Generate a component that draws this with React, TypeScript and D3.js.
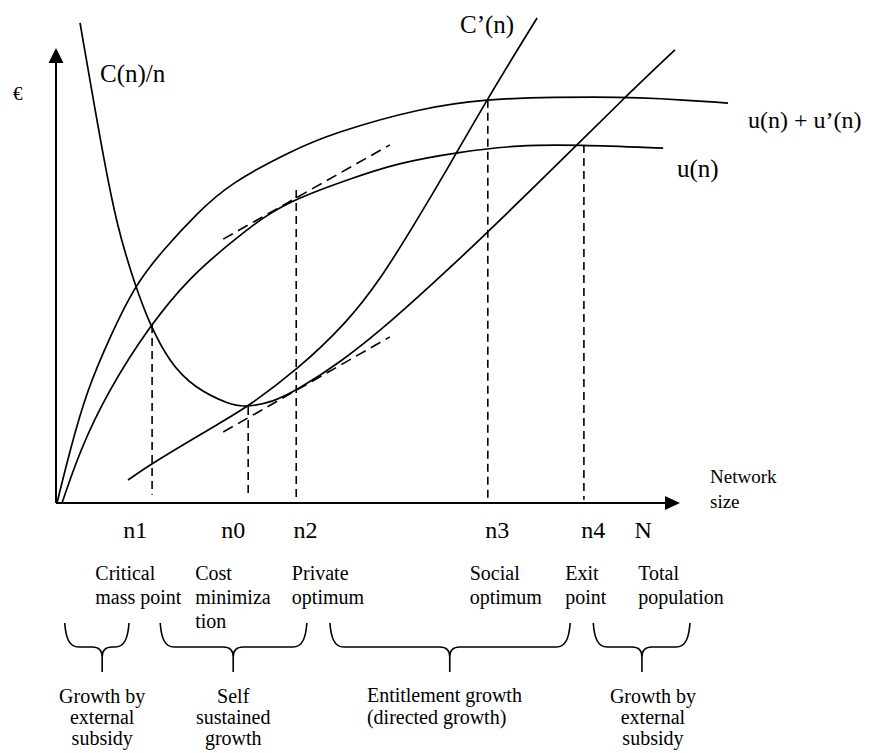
import * as d3 from 'd3'
import { useEffect, useRef } from 'react'

type Pt = [number, number]

// network size (0..100 along the axis) vs euro (0..100 up the axis)
const utilityPlusMarginal: Pt[] = [
  [0.16, 0], [2.24, 11.6], [4.97, 24.8], [8.65, 36.5], [12.66, 47.9], [17.15, 55.6],
  [22.6, 63.7], [27.9, 70.3], [38.0, 77.6], [44.4, 81.3], [58.3, 86.8], [69.2, 88.8],
  [79.6, 89.2], [91.2, 89.2], [95.7, 89.0], [107.7, 87.9]
]
const utility: Pt[] = [
  [0.96, 0], [3.85, 11.6], [8.17, 24.2], [15.06, 39.1], [21.5, 49.7], [27.9, 57.1],
  [33.2, 62.9], [38.6, 67.0], [46.6, 71.0], [54.6, 74.7], [64.3, 77.1], [74.4, 78.7],
  [83.5, 78.7], [97.3, 78.0]
]
const marginalCost: Pt[] = [
  [11.54, 5.05], [15.38, 8.79], [27.9, 18.9], [30.6, 21.1], [38.6, 29.2], [46.6, 39.6],
  [51.9, 49.0], [57.2, 60.7], [63.1, 74.3], [69.2, 89.0], [77.1, 106.6]
]
const averageCost: Pt[] = [
  [3.85, 105.5], [7.37, 77.6], [9.78, 60.7], [12.66, 47.9], [15.06, 39.1], [18.27, 30.8],
  [21.96, 25.5], [27.9, 21.5], [30.6, 21.1], [34.8, 22.2], [38.6, 24.8], [45.5, 30.8],
  [53.5, 39.6], [63.1, 51.6], [71.5, 62.6], [83.5, 78.7], [91.2, 89.2], [99.2, 99.6]
]
const tangents: Pt[][] = [
  [[26.8, 58.0], [53.5, 78.7]],
  [[26.8, 15.6], [53.5, 36.5]]
]

// vertical guides: position, top value, bottom value
const guideX = [15.4, 30.8, 38.5, 69.2, 84.6]
const guideTop = [39.1, 21.1, 68.8, 88.6, 78.7]
const guideBottom = [1.8, 1.2, 0, 0, 0.7]

const pointLabels = ['n1', 'n0', 'n2', 'n3', 'n4', 'N']
const pointLabelX = [12.7, 28.4, 40.0, 70.7, 86.1, 94.1]

const pointNames = [
  ['Critical', 'mass point'],
  ['Cost', 'minimiza', 'tion'],
  ['Private', 'optimum'],
  ['Social', 'optimum'],
  ['Exit', 'point'],
  ['Total', 'population']
]
const pointNameX = [6.3, 22.3, 37.8, 66.3, 81.6, 93.3]

// growth phases under braces
const phaseFrom = [1.4, 16.7, 43.9, 86.1]
const phaseTo = [11.7, 40.2, 82.4, 101.6]
const phaseTip = [7.4, 28.4, 63.1, 93.9]
const phaseNames = [
  ['Growth by', 'external', 'subsidy'],
  ['Self', 'sustained', 'growth'],
  ['Entitlement growth', '(directed growth)'],
  ['Growth by', 'external', 'subsidy']
]

const FONT = '"Liberation Serif", "Times New Roman", Times, Tinos, "Nimbus Roman", FreeSerif, "DejaVu Serif", serif'

const App = () => {
  const ref = useRef<SVGSVGElement>(null)

  useEffect(() => {
    document.body.style.margin = '0'
    if (!ref.current) return
    const svg = d3.select(ref.current)
    svg.selectAll('*').remove()

    const x = d3.scaleLinear().domain([0, 100]).range([56, 680])
    const y = d3.scaleLinear().domain([0, 100]).range([503, 48])

    const line = d3.line<Pt>()
      .x(d => x(d[0]))
      .y(d => y(d[1]))
      .curve(d3.curveBasis)

    // axes with arrow heads
    svg.append('line')
      .attr('x1', x(0)).attr('y1', y(0))
      .attr('x2', x(0)).attr('y2', y(100) + 10)
      .attr('stroke', '#000').attr('stroke-width', 2)
    svg.append('path')
      .attr('d', `M${x(0)},${y(100)} L${x(0) - 7.5},${y(100) + 15} L${x(0) + 7.5},${y(100) + 15} Z`)
      .attr('fill', '#000')
    svg.append('line')
      .attr('x1', x(0)).attr('y1', y(0))
      .attr('x2', x(100) - 10).attr('y2', y(0))
      .attr('stroke', '#000').attr('stroke-width', 2)
    svg.append('path')
      .attr('d', `M${x(100)},${y(0)} L${x(100) - 15},${y(0) - 7} L${x(100) - 15},${y(0) + 7} Z`)
      .attr('fill', '#000')

    // dashed guides
    guideX.forEach((gx, i) => {
      svg.append('line')
        .attr('x1', x(gx)).attr('x2', x(gx))
        .attr('y1', y(guideTop[i])).attr('y2', y(guideBottom[i]))
        .attr('stroke', '#000')
        .attr('stroke-width', 1.6)
        .attr('stroke-dasharray', '8,5')
    })

    // tangent lines
    tangents.forEach(t => {
      svg.append('path')
        .attr('d', d3.line<Pt>().x(d => x(d[0])).y(d => y(d[1]))(t))
        .attr('stroke', '#000')
        .attr('stroke-width', 1.6)
        .attr('stroke-dasharray', '11,6')
        .attr('fill', 'none')
    })

    // curves
    ;[utilityPlusMarginal, utility, marginalCost, averageCost].forEach(c => {
      svg.append('path')
        .attr('d', line(c))
        .attr('fill', 'none')
        .attr('stroke', '#000')
        .attr('stroke-width', 1.7)
    })

    const text = (tx: number, ty: number, s: string, size: number, anchor = 'start') =>
      svg.append('text')
        .attr('x', tx).attr('y', ty)
        .attr('text-anchor', anchor)
        .style('font-family', FONT)
        .style('font-size', `${size}px`)
        .attr('fill', '#000')
        .text(s)

    // curve labels
    text(13, 100, '€', 19)
    text(100, 82, 'C(n)/n', 25)
    text(460, 33, 'C’(n)', 25)
    text(748, 128, 'u(n) + u’(n)', 24)
    text(677, 177, 'u(n)', 25)
    text(710, 483, 'Network', 19)
    text(710, 508, 'size', 19)

    // points on the axis
    pointLabels.forEach((l, i) => text(x(pointLabelX[i]), 538, l, 24, 'middle'))

    pointNames.forEach((lines, i) => {
      lines.forEach((l, j) => text(x(pointNameX[i]), 580 + j * 24, l, 20))
    })

    // braces
    phaseFrom.forEach((f, i) => {
      const a = x(f)
      const b = x(phaseTo[i])
      const t = x(phaseTip[i])
      const top = 623
      const mid = 647
      const bot = 672
      const p = d3.path()
      p.moveTo(a, top)
      p.bezierCurveTo(a + 1, top + 14, a + 4, mid, a + 14, mid)
      p.lineTo(t - 10, mid)
      p.quadraticCurveTo(t, mid, t, mid + 10)
      p.lineTo(t, bot)
      p.moveTo(t, mid + 10)
      p.quadraticCurveTo(t, mid, t + 10, mid)
      p.lineTo(b - 14, mid)
      p.bezierCurveTo(b - 4, mid, b - 1, top + 14, b, top)
      svg.append('path')
        .attr('d', p.toString())
        .attr('fill', 'none')
        .attr('stroke', '#000')
        .attr('stroke-width', 1.6)
    })

    phaseNames.forEach((lines, i) => {
      const left = i === 2
      lines.forEach((l, j) => {
        if (left) text(x(phaseFrom[i]) + 37, 702 + j * 22, l, 20)
        else text(x(phaseTip[i]) + (i === 3 ? 11 : 0), 703 + j * 21, l, 20, 'middle')
      })
    })
  }, [])

  return <svg ref={ref} width={876} height={753} style={{ display: 'block', background: '#fff' }} />
}

export default App
